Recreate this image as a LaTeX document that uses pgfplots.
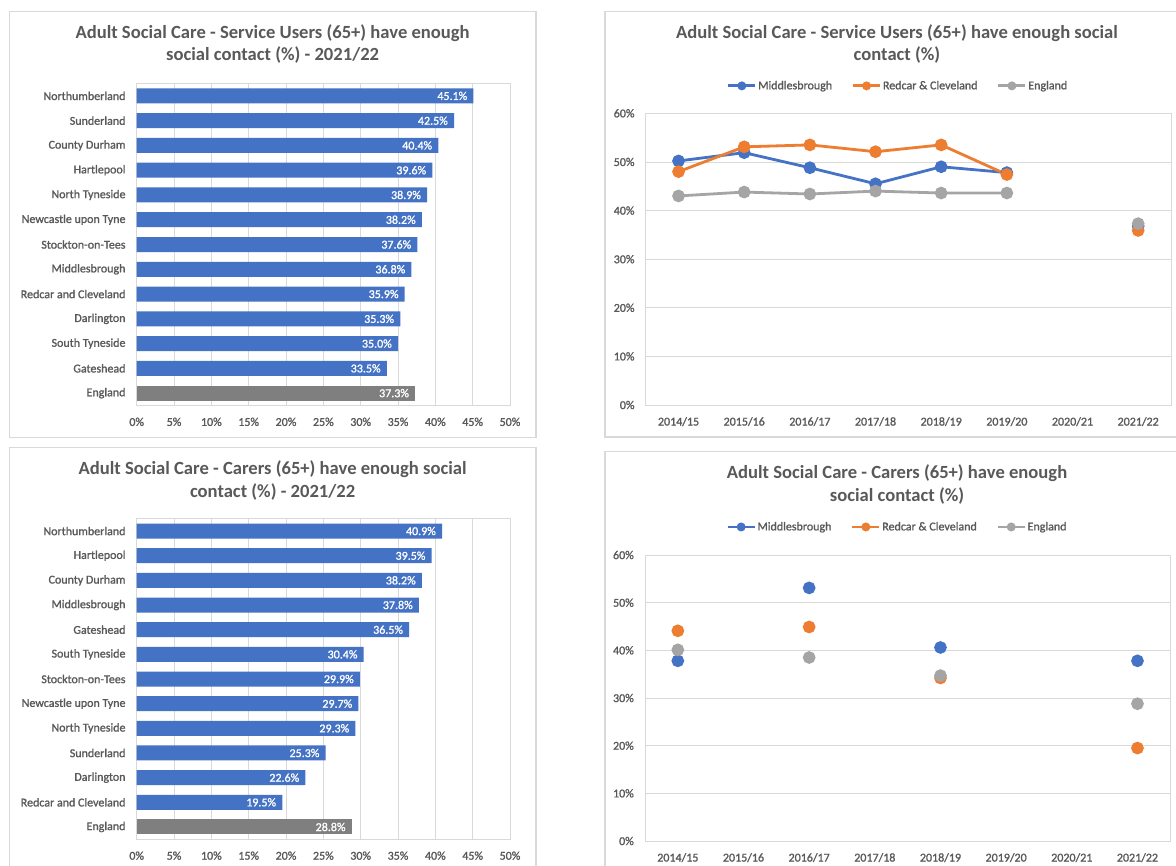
\documentclass[border=0pt]{standalone}
\usepackage{fontspec}
\setmainfont{Carlito}
\newfontfamily\lblfont[FakeBold=1.2]{Carlito}
\usepackage{pgfplots}
\pgfplotsset{compat=1.18}
\definecolor{xlblue}{HTML}{4472C4}
\definecolor{xlorange}{HTML}{ED7D31}
\definecolor{xlgray}{HTML}{A5A5A5}
\definecolor{xldark}{HTML}{7F7F7F}
\definecolor{xltext}{HTML}{595959}
\definecolor{xlgrid}{HTML}{D9D9D9}

\newcommand{\lbl}{\lblfont\fontsize{12}{14}\selectfont}
\newcommand{\ttl}{\bfseries\fontsize{18.6}{22.6}\selectfont}

\pgfplotsset{
  xlbase/.style={
    scale only axis, enlargelimits=false,
    axis line style={draw=xlgrid, line width=0.8pt},
    major tick length=0pt,
    tick label style={font=\lbl, text=xltext},
    grid style={draw=xlgrid, line width=0.8pt},
    /pgf/number format/assume math mode=true,
  },
  barpanel/.style={xlbase,
    xbar, bar width=15pt, bar shift=0pt,
    width=373.3pt, xmin=0, xmax=50, ymin=-0.5, ymax=12.5, y dir=reverse,
    xtick={0,5,...,50},
    xticklabels={0\%,5\%,10\%,15\%,20\%,25\%,30\%,35\%,40\%,45\%,50\%},
    xmajorgrids, ytick={0,...,12},
    xticklabel style={inner sep=0pt, yshift=-12pt},
    yticklabel style={inner sep=0pt, xshift=-11pt},
    nodes near coords={\pgfmathprintnumber[fixed,fixed zerofill,precision=1]{\pgfplotspointmeta}\%},
    nodes near coords style={anchor=east, inner sep=0pt, xshift=-6pt, font=\lbl, text=white},
  },
  linepanel/.style={xlbase,
    width=525.3pt, xmin=-0.5, xmax=7.5, ymin=0, ymax=60,
    xtick={0,...,7},
    xticklabels={2014/15,2015/16,2016/17,2017/18,2018/19,2019/20,2020/21,2021/22},
    ytick={0,10,...,60},
    yticklabels={0\%,10\%,20\%,30\%,40\%,50\%,60\%},
    ymajorgrids, unbounded coords=jump,
    xticklabel style={inner sep=0pt, yshift=-12pt},
    yticklabel style={inner sep=0pt, xshift=-11pt},
    legend columns=3,
    legend style={draw=none, fill=none, font=\lbl, text=xltext, anchor=center,
      /tikz/every even column/.append style={column sep=18pt},
      nodes={inner sep=1.5pt}},
    legend image code/.code={\draw[mark repeat=2,mark phase=2,#1,mark size=3pt]
      plot coordinates {(0pt,0pt) (13.5pt,0pt) (27pt,0pt)};},
  },
  ser/.style={line width=2.8pt, color=#1, mark=*, mark size=4.9pt,
    mark options={solid, fill=#1, draw=#1}},
}

\begin{document}
\begin{tikzpicture}
\path[use as bounding box] (0pt,0pt) rectangle (1176pt,-866pt);
\clip (0pt,0pt) rectangle (1176pt,-866pt);
\fill[white] (0pt,0pt) rectangle (1176pt,-866pt);

% panel frames
\draw[xlgrid, line width=1.2pt] (9.3pt,-11.7pt) rectangle (536pt,-437.7pt);
\draw[xlgrid, line width=1.2pt] (605pt,-11.5pt) rectangle (1189pt,-437pt);
\draw[xlgrid, line width=1.2pt] (9.3pt,-447.7pt) rectangle (536pt,-880pt);
\draw[xlgrid, line width=1.2pt] (605pt,-451.7pt) rectangle (1189pt,-880pt);

% titles
\node[align=center, font=\ttl, text=xltext] at (272.6pt,-44pt)
  {Adult Social Care - Service Users (65+) have enough\\social contact (\%) - 2021/22};
\node[align=center, font=\ttl, text=xltext] at (897pt,-44pt)
  {Adult Social Care - Service Users (65+) have enough social\\contact (\%)};
\node[align=center, font=\ttl, text=xltext] at (272.6pt,-480.5pt)
  {Adult Social Care - Carers (65+) have enough social\\contact (\%) - 2021/22};
\node[align=center, font=\ttl, text=xltext] at (897pt,-484.5pt)
  {Adult Social Care - Carers (65+) have enough\\social contact (\%)};

% top left: service users, bar chart
\begin{axis}[barpanel, at={(136.7pt,-405.5pt)}, anchor=south west, height=322pt,
  yticklabels={Northumberland,Sunderland,County Durham,Hartlepool,North Tyneside,
    Newcastle upon Tyne,Stockton-on-Tees,Middlesbrough,Redcar and Cleveland,
    Darlington,South Tyneside,Gateshead,England}]
\addplot[fill=xlblue, draw=none] coordinates {
  (45.1,0) (42.5,1) (40.4,2) (39.6,3) (38.9,4) (38.2,5) (37.6,6)
  (36.8,7) (35.9,8) (35.3,9) (35.0,10) (33.5,11)
};
\addplot[fill=xldark, draw=none] coordinates {(37.3,12)};
\end{axis}

% bottom left: carers, bar chart
\begin{axis}[barpanel, at={(136.7pt,-839.3pt)}, anchor=south west, height=320.6pt,
  yticklabels={Northumberland,Hartlepool,County Durham,Middlesbrough,Gateshead,
    South Tyneside,Stockton-on-Tees,Newcastle upon Tyne,North Tyneside,
    Sunderland,Darlington,Redcar and Cleveland,England}]
\addplot[fill=xlblue, draw=none] coordinates {
  (40.9,0) (39.5,1) (38.2,2) (37.8,3) (36.5,4) (30.4,5) (29.9,6)
  (29.7,7) (29.3,8) (25.3,9) (22.6,10) (19.5,11)
};
\addplot[fill=xldark, draw=none] coordinates {(28.8,12)};
\end{axis}

% top right: service users, trend
\begin{axis}[linepanel, at={(645.7pt,-405pt)}, anchor=south west, height=291.7pt,
  legend style={at={(0.48,1.094)}}]
\addplot[ser=xlblue] coordinates {
  (0,50.2) (1,51.9) (2,48.8) (3,45.5) (4,49.0) (5,47.8) (6,nan) (7,36.8)};
\addlegendentry{Middlesbrough}
\addplot[ser=xlorange] coordinates {
  (0,48.0) (1,53.1) (2,53.5) (3,52.1) (4,53.5) (5,47.4) (6,nan) (7,35.9)};
\addlegendentry{Redcar \& Cleveland}
\addplot[ser=xlgray] coordinates {
  (0,43.0) (1,43.8) (2,43.4) (3,44.0) (4,43.6) (5,43.6) (6,nan) (7,37.3)};
\addlegendentry{England}
\end{axis}

% bottom right: carers, trend
\begin{axis}[linepanel, at={(645pt,-841pt)}, anchor=south west, height=286pt,
  legend style={at={(0.48,1.098)}}]
\addplot[ser=xlblue] coordinates {
  (0,37.8) (1,nan) (2,53.1) (3,nan) (4,40.6) (5,nan) (6,nan) (7,37.8)};
\addlegendentry{Middlesbrough}
\addplot[ser=xlorange] coordinates {
  (0,44.1) (1,nan) (2,44.9) (3,nan) (4,34.2) (5,nan) (6,nan) (7,19.5)};
\addlegendentry{Redcar \& Cleveland}
\addplot[ser=xlgray] coordinates {
  (0,40.1) (1,nan) (2,38.5) (3,nan) (4,34.7) (5,nan) (6,nan) (7,28.8)};
\addlegendentry{England}
\end{axis}
\end{tikzpicture}
\end{document}
